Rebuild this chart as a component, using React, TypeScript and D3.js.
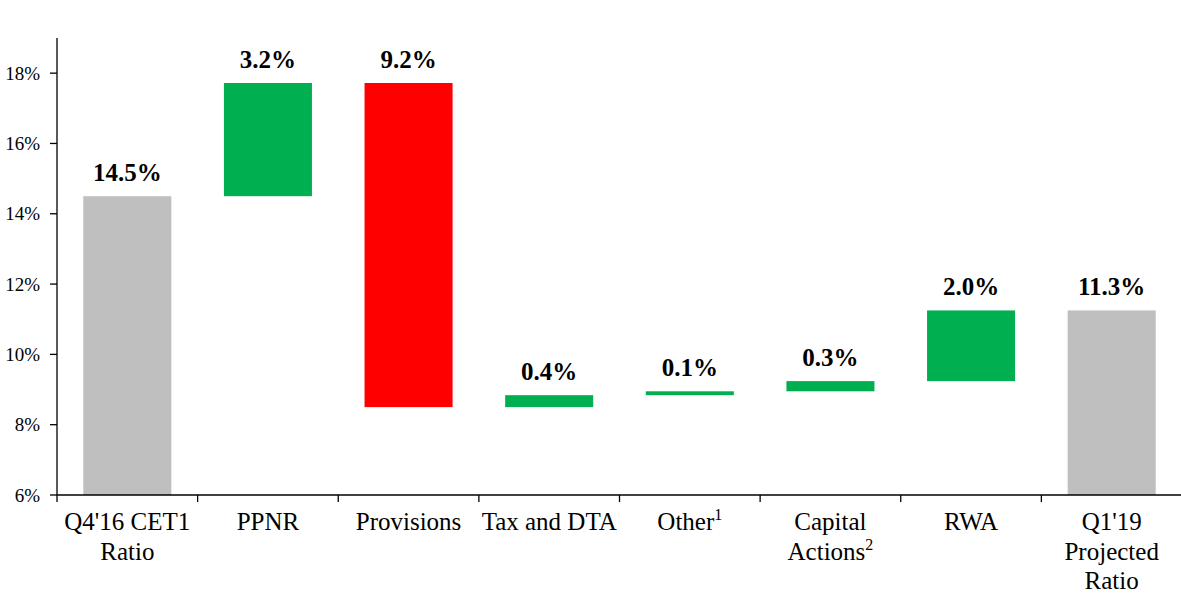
import React from "react";
import * as d3 from "d3";

const categories = [
  "Q4'16 CET1|Ratio",
  "PPNR",
  "Provisions",
  "Tax and DTA",
  "Other^1",
  "Capital|Actions^2",
  "RWA",
  "Q1'19|Projected|Ratio",
];
const kinds = ["total", "up", "down", "up", "up", "up", "up", "total"];
const deltas = [14.5, 3.22, -9.22, 0.34, 0.11, 0.29, 2.01, 0];
const valueLabels = ["14.5%", "3.2%", "9.2%", "0.4%", "0.1%", "0.3%", "2.0%", "11.3%"];
const yTicks = [6, 8, 10, 12, 14, 16, 18];

const colors: Record<string, string> = { total: "#BFBFBF", up: "#00B050", down: "#FF0000" };

const W = 1181;
const H = 614;
const left = 57;
const right = 1182;
const base = 495;
const top = 38;

export default function App() {
  const x = d3.scaleBand<string>().domain(categories).range([left, right]).paddingInner(0.374).paddingOuter(0.187);
  const y = d3.scaleLinear().domain([6, 19]).range([base, top]);

  let cum = 0;
  const bars = categories.map((c, i) => {
    let y0: number, y1: number;
    if (kinds[i] === "total") {
      if (i === 0) {
        cum = deltas[i];
      }
      y0 = 6;
      y1 = cum;
    } else {
      y0 = cum;
      cum = cum + deltas[i];
      y1 = cum;
    }
    return { c, i, lo: Math.min(y0, y1), hi: Math.max(y0, y1) };
  });

  const step = x.step();
  const font = "'Liberation Serif', 'Times New Roman', serif";

  return (
    <svg width={W} height={H} style={{ position: "absolute", left: 0, top: 0, background: "#fff" }}>
      {bars.map((b) => (
        <rect
          key={b.c}
          x={x(b.c)}
          y={y(b.hi)}
          width={x.bandwidth()}
          height={y(b.lo) - y(b.hi)}
          fill={colors[kinds[b.i]]}
        />
      ))}
      {bars.map((b) => (
        <text
          key={"l" + b.c}
          x={(x(b.c) as number) + x.bandwidth() / 2}
          y={y(b.hi) - 15}
          textAnchor="middle"
          fontFamily={font}
          fontWeight="bold"
          fontSize={25}
          fill="#000"
        >
          {valueLabels[b.i]}
        </text>
      ))}
      {/* y axis */}
      <line x1={left} x2={left} y1={top} y2={base} stroke="#000" strokeWidth={1.3} />
      {yTicks.map((t) => (
        <g key={"yt" + t}>
          <line x1={left - 7} x2={left} y1={y(t)} y2={y(t)} stroke="#000" strokeWidth={1.3} />
          <text
            x={left - 17}
            y={y(t)}
            dy="0.35em"
            textAnchor="end"
            fontFamily={font}
            fontSize={19}
            fill="#000"
          >
            {t + "%"}
          </text>
        </g>
      ))}
      {/* x axis */}
      <line x1={left} x2={W} y1={base} y2={base} stroke="#000" strokeWidth={1.3} />
      {d3.range(categories.length + 1).map((i) => (
        <line
          key={"xt" + i}
          x1={left + i * step}
          x2={left + i * step}
          y1={base}
          y2={base + 7}
          stroke="#000"
          strokeWidth={1.3}
        />
      ))}
      {categories.map((c) => {
        const lines = c.split("|");
        const cx = (x(c) as number) + x.bandwidth() / 2;
        return (
          <text key={"c" + c} textAnchor="middle" fontFamily={font} fontSize={25} fill="#000">
            {lines.map((ln, k) => {
              const [main, sup] = ln.split("^");
              return (
                <tspan key={k} x={cx} y={530 + k * 29.5}>
                  {main}
                  {sup ? (
                    <tspan fontSize={16} dy={-10}>
                      {sup}
                    </tspan>
                  ) : null}
                </tspan>
              );
            })}
          </text>
        );
      })}
    </svg>
  );
}
